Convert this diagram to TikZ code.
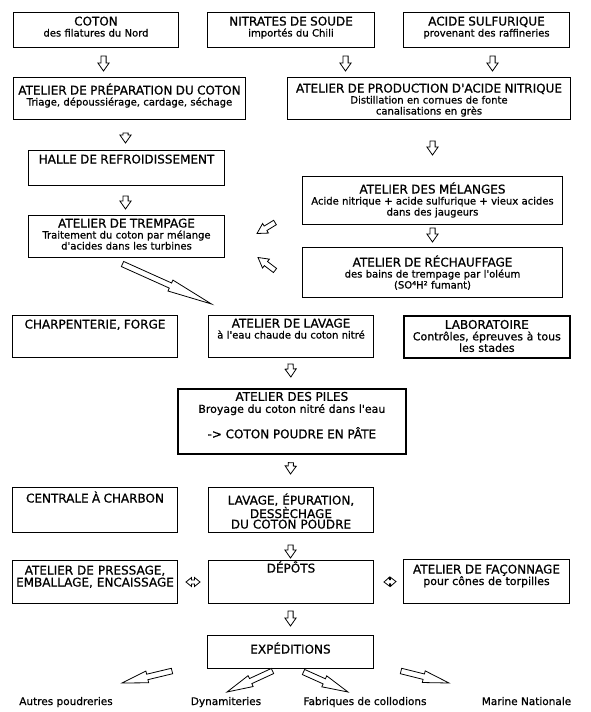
\documentclass[tikz,border=0pt]{standalone}
\usepackage{fontspec}
\setmainfont{DejaVu Sans}[Ligatures=TeXOff, FakeBold=0.8]
\usetikzlibrary{calc}

\newcommand\titre[1]{{\fontsize{12}{13}\selectfont #1}}
\newcommand\sous{\fontsize{10}{11}\selectfont}

\begin{document}
\begin{tikzpicture}[
    x=1pt, y=-1pt,
    boite/.style={draw, line width=1pt, anchor=north west, align=center,
                  inner xsep=1pt, inner ysep=3.5pt, font=\sous},
    epaisse/.style={line width=1.7pt},
    creux/.style={draw, fill=white, line width=0.8pt},
    % fleche creuse : demi-largeur du fut, demi-largeur de la tete, longueur de la tete
    fleche/.style n args={3}{creux, to path={
        let \p1=(\tikztostart), \p2=(\tikztotarget),
            \n1={atan2(\y2-\y1,\x2-\x1)}, \n2={veclen(\x2-\x1,\y2-\y1)} in
        ($(\p1)+(\n1+90:#1)$) -- ($(\p1)+(\n1+90:#1)+(\n1:\n2-#3)$)
        -- ($(\p1)+(\n1+90:#2)+(\n1:\n2-#3)$) -- (\p2)
        -- ($(\p1)+(\n1-90:#2)+(\n1:\n2-#3)$) -- ($(\p1)+(\n1-90:#1)+(\n1:\n2-#3)$)
        -- ($(\p1)+(\n1-90:#1)$) -- cycle}},
    descente/.style={fleche={2.6pt}{5.6pt}{8pt}},
    % double fleche creuse
    navette/.style={creux, to path={
        let \p1=(\tikztostart), \p2=(\tikztotarget),
            \n1={atan2(\y2-\y1,\x2-\x1)}, \n2={veclen(\x2-\x1,\y2-\y1)} in
        (\p1) -- ($(\p1)+(\n1+90:4.5pt)+(\n1:5.5pt)$) -- ($(\p1)+(\n1+90:2pt)+(\n1:5.5pt)$)
        -- ($(\p1)+(\n1+90:2pt)+(\n1:\n2-5.5pt)$) -- ($(\p1)+(\n1+90:4.5pt)+(\n1:\n2-5.5pt)$)
        -- (\p2) -- ($(\p1)+(\n1-90:4.5pt)+(\n1:\n2-5.5pt)$) -- ($(\p1)+(\n1-90:2pt)+(\n1:\n2-5.5pt)$)
        -- ($(\p1)+(\n1-90:2pt)+(\n1:5.5pt)$) -- ($(\p1)+(\n1-90:4.5pt)+(\n1:5.5pt)$) -- cycle}},
    etiquette/.style={anchor=base, font=\fontsize{10.5}{12}\selectfont},
  ]
    \useasboundingbox (0,0) rectangle (590,712);

    % matieres premieres
    \node[boite, text width=163pt, text height=9.5pt, text depth=18.5pt] (coton) at (13,12)
        {\titre{COTON}\\des filatures du Nord};
    \node[boite, text width=165pt, text height=9.5pt, text depth=18.5pt] (nitrates) at (207,12)
        {\titre{NITRATES DE SOUDE}\\importés du Chili};
    \node[boite, text width=164pt, text height=9.5pt, text depth=18.5pt] (acide) at (403,12)
        {\titre{ACIDE SULFURIQUE}\\provenant des raffineries};

    \node[boite, text width=230pt, text height=13.5pt, text depth=21.5pt] (prep) at (13,77)
        {\titre{ATELIER DE PRÉPARATION DU COTON}\\Triage, dépoussiérage, cardage, séchage};
    \node[boite, text width=281pt, text height=11.5pt, text depth=23.5pt] (nitrique) at (287,77)
        {\titre{ATELIER DE PRODUCTION D'ACIDE NITRIQUE}\\Distillation en cornues de fonte\\canalisations en grès};

    \node[boite, text width=194pt, text height=9.5pt, text depth=18.5pt] (halle) at (28,150)
        {\titre{HALLE DE REFROIDISSEMENT}};
    \node[boite, text width=194pt, text height=8.5pt, text depth=26.5pt] (trempage) at (28,215)
        {\titre{ATELIER DE TREMPAGE}\\Traitement du coton par mélange\\d'acides dans les turbines};

    \node[boite, text width=258pt, text height=13.5pt, text depth=27.5pt] (melanges) at (302,176)
        {\titre{ATELIER DES MÉLANGES}\\Acide nitrique + acide sulfurique + vieux acides\\dans des jaugeurs};
    \node[boite, text width=258pt, text height=15.5pt, text depth=27.5pt] (rechauffage) at (302,247)
        {\titre{ATELIER DE RÉCHAUFFAGE}\\des bains de trempage par l'oléum\\(SO⁴H² fumant)};

    \node[boite, text width=163pt, text height=9.5pt, text depth=25.5pt] (charpenterie) at (12,315)
        {\titre{CHARPENTERIE, FORGE}};
    \node[boite, text width=163pt, text height=8.5pt, text depth=26.5pt] (lavage) at (208,315)
        {\titre{ATELIER DE LAVAGE}\\à l'eau chaude du coton nitré};
    \node[boite, epaisse, text width=164pt, text height=9.5pt, text depth=25.5pt,
          font=\fontsize{11}{11.5}\selectfont] (labo) at (403,315)
        {\titre{LABORATOIRE}\\Contrôles, épreuves à tous\\les stades};

    \node[boite, epaisse, text width=226pt, text height=8.5pt, text depth=49.5pt,
          font=\fontsize{11}{12}\selectfont] (piles) at (177,388)
        {\titre{ATELIER DES PILES}\\Broyage du coton nitré dans l'eau\\[11pt]\titre{-> COTON POUDRE EN PÂTE}};

    \node[boite, text width=163pt, text height=11.5pt, text depth=26.5pt] (centrale) at (12,487)
        {\titre{CENTRALE À CHARBON}};
    \node[boite, text width=163pt, text height=13.5pt, text depth=24.5pt,
          font=\fontsize{12}{10.5}\selectfont] (epuration) at (208,487)
        {\titre{LAVAGE, ÉPURATION,}\\\titre{DESSÈCHAGE}\\\titre{DU COTON POUDRE}};

    \node[boite, text width=163pt, text height=10.5pt, text depth=25.5pt,
          font=\fontsize{12}{12}\selectfont] (pressage) at (12,560)
        {\titre{ATELIER DE PRESSAGE,}\\\titre{EMBALLAGE, ENCAISSAGE}};
    \node[boite, text width=163pt, text height=8.5pt, text depth=27.5pt] (depots) at (208,560)
        {\titre{DÉPÔTS}};
    \node[boite, text width=164pt, text height=10.5pt, text depth=26.5pt,
          font=\fontsize{11}{11.5}\selectfont] (faconnage) at (403,559)
        {\titre{ATELIER DE FAÇONNAGE}\\pour cônes de torpilles};

    \node[boite, text width=164pt, text height=14.5pt, text depth=11.5pt] (expeditions) at (207,635)
        {\titre{EXPÉDITIONS}};

    % destinations
    \node[etiquette] (poudreries) at (66,705) {Autres poudreries};
    \node[etiquette] (dynamiteries) at (226,705) {Dynamiteries};
    \node[etiquette] (collodions) at (365,705) {Fabriques de collodions};
    \node[etiquette] (marine) at (526.5,705) {Marine Nationale};

    % fleches verticales
    \draw[descente] ($(coton.south)+(7.5,8)$) to ($(prep.north)+(-26,-6)$);
    \draw[descente] ($(nitrates.south)+(54.5,8)$) to ($(nitrique.north)+(-83.5,-6)$);
    \draw[descente] ($(acide.south)+(6,8)$) to ($(nitrique.north)+(63.5,-6)$);
    \draw[descente] ($(prep.south)+(-4,13)$) to ($(halle.north)+(-1,-7)$);
    \draw[descente] ($(nitrique.south)+(3.5,21)$) to ($(melanges.north)+(0,-21)$);
    \draw[descente] ($(halle.south)+(-1,10)$) to ($(trempage.north)+(-1,-6)$);
    \draw[descente] ($(melanges.south)+(0,3)$) to ($(rechauffage.north)+(0,-5)$);
    \draw[descente] ($(lavage.south)+(-0.5,6)$) to ($(piles.north)+(-1,-11)$);
    \draw[descente] ($(piles.south)+(-1,8)$) to ($(epuration.north)+(-0.5,-13)$);
    \draw[descente] ($(epuration.south)+(-0.5,12)$) to ($(depots.north)+(-0.5,-2)$);
    \draw[descente] ($(depots.south)+(-0.5,7)$) to ($(expeditions.north)+(0,-9)$);

    % fleches obliques
    \draw[fleche={2.6pt}{5.6pt}{10pt}] ($(melanges.west)+(-27,22)$) to ($(trempage.east)+(32,-3)$);
    \draw[fleche={2.6pt}{5.6pt}{10pt}] ($(rechauffage.west)+(-27,-2)$) to ($(trempage.east)+(33,21)$);
    \draw[fleche={2.8pt}{6pt}{45pt}] ($(trempage.south)+(-4,6)$) to ($(lavage.north)+(-79.5,-11)$);

    % echanges avec les depots
    \draw[navette] ($(pressage.east)+(8,0)$) to ($(depots.west)+(-8,0)$);
    \draw[navette] ($(depots.east)+(10,0)$) to ($(faconnage.west)+(-7,0)$);

    % expeditions
    \draw[fleche={2.8pt}{6pt}{26pt}] ($(expeditions.south west)+(-35,2)$) to ($(poudreries.base)+(56,-22)$);
    \draw[fleche={2.8pt}{6pt}{26pt}] ($(expeditions.south)+(-18,2)$) to ($(dynamiteries.base)+(1,-13)$);
    \draw[fleche={2.8pt}{6pt}{26pt}] ($(expeditions.south)+(13,3)$) to ($(collodions.base)+(-17,-13)$);
    \draw[fleche={2.8pt}{6pt}{26pt}] ($(expeditions.south east)+(27,2)$) to ($(marine.base)+(-77.5,-22)$);
  \end{tikzpicture}
\end{document}
